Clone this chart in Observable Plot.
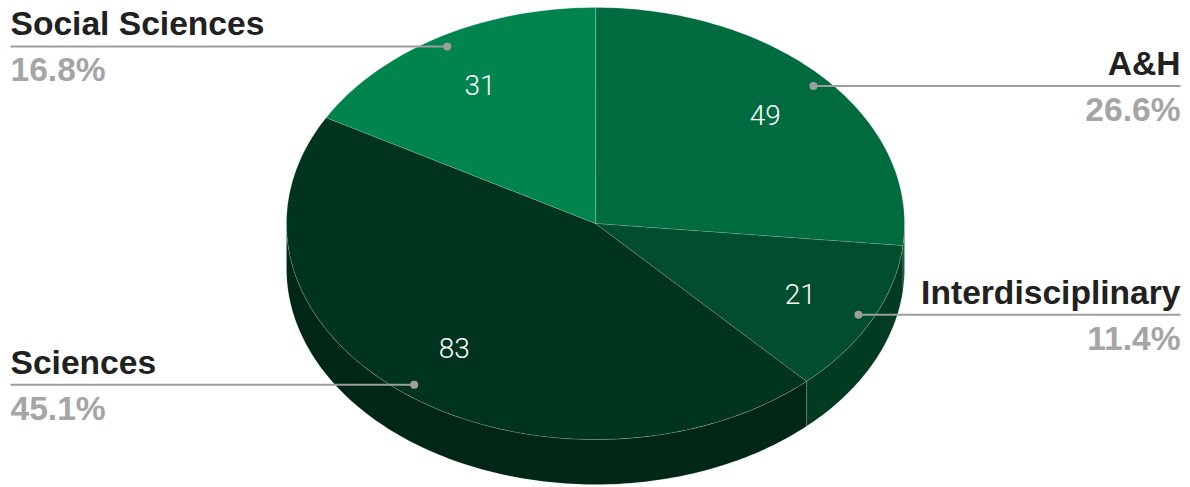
<!DOCTYPE html>
<html>
<head>
<meta charset="utf-8">
<script src="https://cdn.jsdelivr.net/npm/d3@7"></script>
<script src="https://cdn.jsdelivr.net/npm/@observablehq/plot@0.6"></script>
<style>
  html, body { margin: 0; padding: 0; background: #ffffff; }
  #chart svg { display: block; font-family: "Liberation Sans", Arial, sans-serif; }
</style>
</head>
<body>
<div id="chart"></div>
<script>
// ---- data ----
const categories = ["A&H", "Interdisciplinary", "Sciences", "Social Sciences"];
const values = [49, 21, 83, 31];
const topColors = ["#006b3f", "#004e2e", "#00341f", "#00844d"];
const sideColors = ["#00502f", "#003b22", "#002716", "#00633a"];

// ---- layout (pixel space) ----
const W = 1190, H = 487;
const cx = 595, cy = 223, rx = 309, ry = 216, depth = 45;
const total = d3.sum(values);

// clockwise angle from 12 o'clock, in degrees
const pt = (deg, k = 1, dz = 0) => {
  const a = deg * Math.PI / 180;
  return [cx + k * rx * Math.sin(a), cy - k * ry * Math.cos(a) + dz];
};

let acc = 0;
const slices = categories.map((name, i) => {
  const a0 = acc / total * 360;
  acc += values[i];
  const a1 = acc / total * 360;
  return {name, value: values[i], a0, a1, mid: (a0 + a1) / 2, top: topColors[i], side: sideColors[i]};
});

const arcPts = (s, e, dz = 0) => {
  const n = Math.max(2, Math.ceil((e - s) / 1));
  return d3.range(n + 1).map(j => pt(s + (e - s) * j / n, 1, dz));
};

// side faces (visible lower half 90..270 deg)
const sideRows = [];
slices.forEach(s => {
  const st = Math.max(s.a0, 90), en = Math.min(s.a1, 270);
  if (en > st) {
    const upper = arcPts(st, en, 0);
    const lower = arcPts(st, en, depth).reverse();
    [...upper, ...lower].forEach(([x, y]) => sideRows.push({name: s.name, x, y, fill: s.side}));
  }
});

// top faces
const topRows = [];
slices.forEach(s => {
  const pts = [[cx, cy], ...arcPts(s.a0, s.a1, 0)];
  pts.forEach(([x, y]) => topRows.push({name: s.name, x, y, fill: s.top}));
});

// labels
const labels = slices.map(s => {
  const [dx, dy] = pt(s.mid, 0.95);
  const [vx, vy] = pt(s.mid, 0.74);
  const left = s.mid > 180;
  return {
    ...s, dx, dy, vx, vy, left,
    ex: left ? 10 : 1180,
    pct: (s.value / total * 100).toFixed(1) + "%"
  };
});
const leftLabels = labels.filter(d => d.left);
const rightLabels = labels.filter(d => !d.left);

const nameOpts = {x: "ex", y: "dy", text: "name", dy: -11, lineAnchor: "bottom", fill: "#212121", fontSize: 33.6, fontWeight: 700};
const pctOpts = {x: "ex", y: "dy", text: "pct", dy: 35, lineAnchor: "bottom", fill: "#a5a5a5", fontSize: 33.6, fontWeight: 700};

const chart = Plot.plot({
  width: W, height: H,
  margin: 0,
  x: {type: "linear", domain: [0, W], range: [0, W], axis: null},
  y: {type: "linear", domain: [0, H], range: [0, H], axis: null},
  color: {type: "identity"},
  marks: [
    Plot.line(sideRows, {x: "x", y: "y", z: "name", fill: "fill", stroke: "rgba(255,255,255,0.12)", strokeWidth: 1, curve: "linear-closed"}),
    Plot.line(topRows, {x: "x", y: "y", z: "name", fill: "fill", stroke: "rgba(255,255,255,0.18)", strokeWidth: 1, curve: "linear-closed"}),
    Plot.text(labels, {x: "vx", y: "vy", text: d => String(d.value), fill: "#ffffff", fontSize: 28, fontWeight: 300, fontFamily: "Roboto, 'Liberation Sans', sans-serif"}),
    Plot.link(labels, {x1: "dx", y1: "dy", x2: "ex", y2: "dy", stroke: "#9e9e9e", strokeWidth: 2}),
    Plot.dot(labels, {x: "dx", y: "dy", r: 4, fill: "#9e9e9e", stroke: null}),
    Plot.text(leftLabels, {...nameOpts, textAnchor: "start"}),
    Plot.text(rightLabels, {...nameOpts, textAnchor: "end"}),
    Plot.text(leftLabels, {...pctOpts, textAnchor: "start"}),
    Plot.text(rightLabels, {...pctOpts, textAnchor: "end"})
  ]
});
document.getElementById("chart").appendChild(chart);
</script>
</body>
</html>
